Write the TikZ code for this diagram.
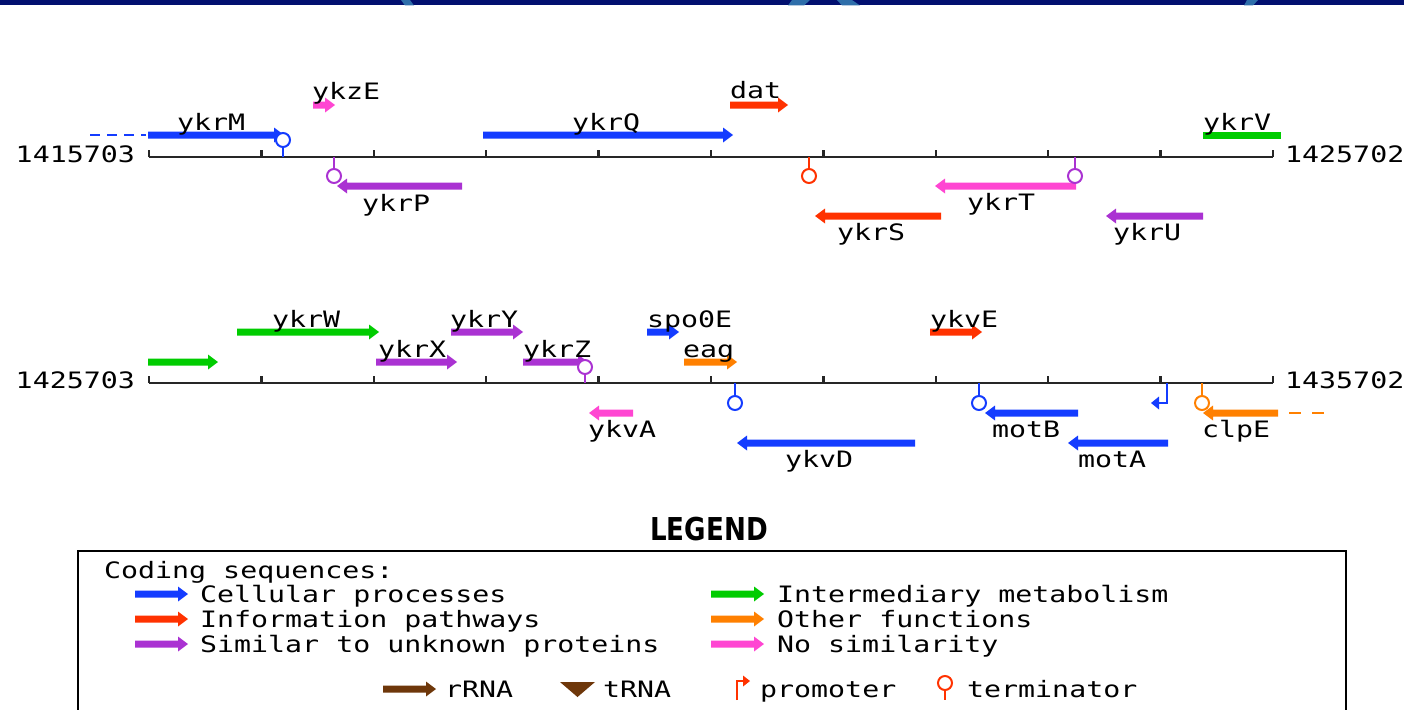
\documentclass[tikz,border=0pt]{standalone}
\usepackage{fontspec}
\newfontfamily\mapfont[FakeStretch=1.25]{DejaVu Sans Mono}
\newfontfamily\titlefont[FakeStretch=0.83]{DejaVu Sans}

\definecolor{cellblue}{RGB}{20,60,255}
\definecolor{infored}{RGB}{255,50,0}
\definecolor{unkpurple}{RGB}{170,50,210}
\definecolor{nosimpink}{RGB}{255,70,210}
\definecolor{metgreen}{RGB}{0,204,0}
\definecolor{othorange}{RGB}{255,128,0}
\definecolor{rnabrown}{RGB}{110,55,10}
\definecolor{bandnavy}{RGB}{2,16,112}
\definecolor{bandlight}{RGB}{46,110,170}

% forward gene: colour, start, tip, y
\newcommand\genefwd[4]{\fill[#1] (#2,{#4-3.5}) -- ({#3-10},{#4-3.5}) -- ({#3-10},{#4-7.5}) -- (#3,#4) -- ({#3-10},{#4+7.5}) -- ({#3-10},{#4+3.5}) -- (#2,{#4+3.5}) -- cycle;}
% reverse gene: colour, tail, tip, y
\newcommand\generev[4]{\fill[#1] (#2,{#4-3.5}) -- ({#3+10},{#4-3.5}) -- ({#3+10},{#4-7.5}) -- (#3,#4) -- ({#3+10},{#4+7.5}) -- ({#3+10},{#4+3.5}) -- (#2,{#4+3.5}) -- cycle;}
% terminator: colour, x, axis y, circle y
\newcommand\termsym[4]{\draw[#1, line width=2pt] (#2,#3) -- (#2,#4);
  \draw[#1, line width=2pt, fill=white] (#2,#4) circle[radius=7pt];}

\tikzset{
  lbl/.style={font=\mapfont\fontsize{22.6}{24}\selectfont, inner sep=0pt, anchor=base west},
  numl/.style={lbl, anchor=base east},
  axisline/.style={line width=2.5pt, black!85},
}

\begin{document}
\begin{tikzpicture}[x={(1pt,0pt)}, y={(0pt,-1pt)}]
\useasboundingbox (0,0) rectangle (1404,709);
\fill[white] (0,0) rectangle (1404,709);

% header band
\fill[bandnavy] (0,0) rectangle (1404,5.5);
\fill[bandlight] (401,0) -- (410,0) -- (414,5.5) -- (405,5.5) -- cycle;
\fill[bandlight] (792,0) -- (810,0) -- (804,5.5) -- (788,5.5) -- cycle;
\fill[bandlight] (837,0) -- (852,0) -- (860,5.5) -- (842,5.5) -- cycle;
\fill[bandlight] (1247,0) -- (1258,0) -- (1253,5.5) -- (1244,5.5) -- cycle;

% ---------- first segment ----------
\coordinate (a1s) at (149,157);
\coordinate (a1e) at (1273,157);
\draw[axisline] (a1s) -- (a1e);
\foreach \k in {0,...,10} \draw[axisline] ({149+112.4*\k},157) -- ({149+112.4*\k},150);
\node[numl] (n1s) at (135,162) {1415703};
\node[lbl] (n1e) at (1285,162) {1425702};

\draw[cellblue, line width=2pt, dash pattern=on 10pt off 7pt] (90,135) -- (146,135);
\genefwd{cellblue}{148}{284}{135}
\genefwd{nosimpink}{313}{335}{105}
\generev{unkpurple}{462}{337}{186}
\genefwd{cellblue}{483}{733}{135}
\genefwd{infored}{730}{788}{105}
\generev{infored}{941}{815}{216}
\generev{nosimpink}{1076}{935}{186}
\generev{unkpurple}{1203}{1106}{216}
\fill[metgreen] (1203,131.5) rectangle (1281,139);
\termsym{cellblue}{283}{157}{140}
\termsym{unkpurple}{334}{157}{176}
\termsym{infored}{809}{157}{176}
\termsym{unkpurple}{1075}{157}{176}

\node[lbl] (ykrM) at (177,130) {ykrM};
\node[lbl] (ykzE) at (312,99) {ykzE};
\node[lbl] (ykrP) at (362,211) {ykrP};
\node[lbl] (ykrQ) at (572,130) {ykrQ};
\node[lbl] (dat) at (730,98) {dat};
\node[lbl] (ykrS) at (837,240) {ykrS};
\node[lbl] (ykrT) at (967,210) {ykrT};
\node[lbl] (ykrU) at (1113,240) {ykrU};
\node[lbl] (ykrV) at (1203,130) {ykrV};

% ---------- second segment ----------
\coordinate (a2s) at (149,383);
\coordinate (a2e) at (1273,383);
\draw[axisline] (a2s) -- (a2e);
\foreach \k in {0,...,10} \draw[axisline] ({149+112.4*\k},383) -- ({149+112.4*\k},376);
\node[numl] (n2s) at (135,388) {1425703};
\node[lbl] (n2e) at (1285,388) {1435702};

\genefwd{metgreen}{148}{218}{362}
\genefwd{metgreen}{237}{379}{332}
\genefwd{unkpurple}{376}{457}{362}
\genefwd{unkpurple}{451}{523}{332}
\genefwd{unkpurple}{523}{588}{362}
\genefwd{cellblue}{647}{679}{332}
\genefwd{othorange}{684}{737}{362}
\generev{nosimpink}{633}{589}{413}
\generev{cellblue}{915}{737}{443}
\genefwd{infored}{930}{982}{332}
\generev{cellblue}{1078}{985}{413}
\generev{cellblue}{1168}{1068}{443}
\generev{othorange}{1278}{1203}{413}
\draw[othorange, line width=2pt, dash pattern=on 12pt off 11pt] (1289,413) -- (1325,413);

\termsym{unkpurple}{585}{383}{367}
\termsym{cellblue}{735}{383}{403}
\termsym{cellblue}{979}{383}{403}
\termsym{othorange}{1202}{383}{403}
% promoter before motA
\draw[cellblue, line width=2pt] (1167,383) -- (1167,403) -- (1157,403);
\fill[cellblue] (1151,403) -- (1159,396.5) -- (1159,409.5) -- cycle;

\node[lbl] (ykrW) at (272,327) {ykrW};
\node[lbl] (ykrX) at (378,357) {ykrX};
\node[lbl] (ykrY) at (450,327) {ykrY};
\node[lbl] (ykrZ) at (523,357) {ykrZ};
\node[lbl] (spo0E) at (647,327) {spo0E};
\node[lbl] (eag) at (683,357) {eag};
\node[lbl] (ykvA) at (588,437) {ykvA};
\node[lbl] (ykvD) at (785,467) {ykvD};
\node[lbl] (ykvE) at (930,327) {ykvE};
\node[lbl] (motB) at (992,437) {motB};
\node[lbl] (motA) at (1078,467) {motA};
\node[lbl] (clpE) at (1202,437) {clpE};

% ---------- legend ----------
\node[inner sep=0pt, anchor=base] (legtitle) at (709,540)
  {\titlefont\bfseries\fontsize{31.5}{33}\selectfont LEGEND};
\draw[line width=2pt] (78,712) -- (78,551) -- (1346,551) -- (1346,712);

\node[lbl] (coding) at (104,578) {Coding sequences:};
\genefwd{cellblue}{135}{188}{594}
\genefwd{infored}{135}{188}{619}
\genefwd{unkpurple}{135}{188}{644}
\genefwd{metgreen}{711}{764}{594}
\genefwd{othorange}{711}{764}{619}
\genefwd{nosimpink}{711}{764}{644}
\node[lbl] (lcell) at (200,602) {Cellular processes};
\node[lbl] (linfo) at (200,627) {Information pathways};
\node[lbl] (lunk) at (200,652) {Similar to unknown proteins};
\node[lbl] (lmet) at (777,602) {Intermediary metabolism};
\node[lbl] (loth) at (777,627) {Other functions};
\node[lbl] (lnosim) at (777,652) {No similarity};

\genefwd{rnabrown}{383}{436}{689}
\node[lbl] (lrrna) at (445,697) {rRNA};
\fill[rnabrown] (560,682) -- (595,682) -- (577.5,697) -- cycle;
\node[lbl] (ltrna) at (603,697) {tRNA};
\draw[infored, line width=2pt] (737,700) -- (737,681) -- (744,681);
\fill[infored] (750,681) -- (743,675.5) -- (743,686.5) -- cycle;
\node[lbl] (lprom) at (760,697) {promoter};
\draw[infored, line width=2pt] (945,683) -- (945,700);
\draw[infored, line width=2pt, fill=white] (945,683) circle[radius=7pt];
\node[lbl] (lterm) at (967,697) {terminator};
\end{tikzpicture}
\end{document}
